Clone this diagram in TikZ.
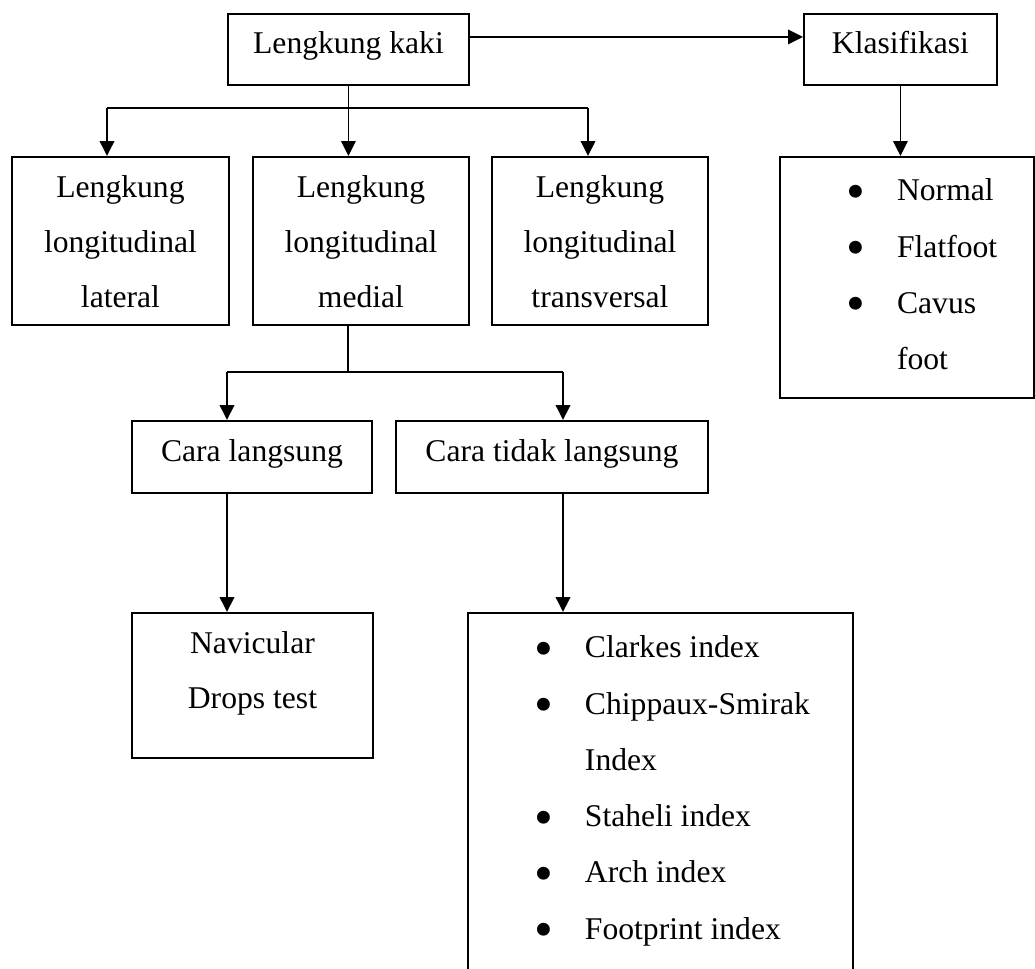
\documentclass[tikz,border=0pt]{standalone}
\usepackage{fontspec}
\setmainfont{Liberation Serif}
\usetikzlibrary{arrows.meta}

\newcommand{\titik}{\raisebox{-0.17cm}{\scalebox{1.7}{\textbullet}}}
\newcommand{\poin}[2][\titik]{\leavevmode\rlap{\makebox[0.224cm]{#1}\hspace{0.708cm}#2}}

\begin{document}
\begin{tikzpicture}[x=0.2mm, y=-0.2mm,
  kotak/.style={draw, line width=1.1pt, inner sep=0pt, anchor=north west, align=flush center,
    font=\fontsize{18}{31.2}\selectfont},
  daftar/.style={kotak, align=flush left, font=\fontsize{18}{32}\selectfont},
  panah/.style={line width=1.1pt, -{Triangle[length=3mm, width=2.9mm]}}]
   \useasboundingbox (0,0) rectangle (1035,968);
   \clip (0,0) rectangle (1035,968);
   \node[kotak, text width=4.82cm, text height=0.8cm, text depth=0.62cm] (kaki) at (227,13) {Lengkung kaki};
   \node[kotak, text width=3.86cm, text height=0.8cm, text depth=0.62cm] (klas) at (803,13) {Klasifikasi\hspace*{0.24cm}};
   \node[kotak, text width=4.34cm, text height=0.82cm, text depth=2.54cm] (lateral) at (11,156) {Lengkung\\longitudinal\\lateral};
   \node[kotak, text width=4.32cm, text height=0.82cm, text depth=2.54cm] (medial) at (252,156) {Lengkung\\longitudinal\\medial};
   \node[kotak, text width=4.32cm, text height=0.82cm, text depth=2.54cm] (transversal) at (491,156) {Lengkung\\longitudinal\\transversal};
   \node[daftar, text width=2.26cm, minimum width=5.08cm, text height=0.88cm, text depth=3.94cm] (jenis) at (779,156)
     {\poin{Normal}\\\poin{Flatfoot}\\\poin{Cavus}\\\poin[]{foot}};
   \node[kotak, text width=4.8cm, text height=0.82cm, text depth=0.62cm] (langsung) at (131,420) {Cara langsung\hspace*{0.32cm}};
   \node[kotak, text width=6.24cm, text height=0.82cm, text depth=0.62cm] (taklangsung) at (395,420) {Cara tidak langsung\hspace*{0.32cm}};
   \node[kotak, text width=4.82cm, text height=0.82cm, text depth=2.08cm] (navicular) at (131,612) {Navicular\\Drops test};
   \node[daftar, text width=4.884cm, minimum width=7.7cm, text height=0.9cm, text depth=6.46cm] (indeks) at (467,612)
     {\poin{Clarkes index}\\\poin{Chippaux-Smirak}\\\poin[]{Index}\\\poin{Staheli index}\\\poin{Arch index}\\\poin{Footprint index}};
   \coordinate (c1l) at (107,108);
   \coordinate (c1r) at (588,108);
   \coordinate (c2) at (348,372);
   \coordinate (c2l) at (227,372);
   \coordinate (c2r) at (563,372);
   \draw[panah] ([yshift=2.5mm]kaki.east) -- ([yshift=2.5mm]klas.west);
   \draw[panah] (klas.south) -- (klas.south |- jenis.north);
   \draw[line width=1.1pt] (kaki.south) -- (kaki.south |- c1l);
   \draw[line width=1.1pt] (c1l) -- (c1r);
   \draw[panah] (c1l) -- (c1l |- lateral.north);
   \draw[panah] (kaki.south |- c1l) -- (kaki.south |- medial.north);
   \draw[panah] (c1r) -- (c1r |- transversal.north);
   \draw[line width=1.1pt] (c2 |- medial.south) -- (c2);
   \draw[line width=1.1pt] (c2l) -- (c2r);
   \draw[panah] (c2l) -- (c2l |- langsung.north);
   \draw[panah] (c2r) -- (c2r |- taklangsung.north);
   \draw[panah] (c2l |- langsung.south) -- (c2l |- navicular.north);
   \draw[panah] (c2r |- taklangsung.south) -- (c2r |- indeks.north);
\end{tikzpicture}
\end{document}
